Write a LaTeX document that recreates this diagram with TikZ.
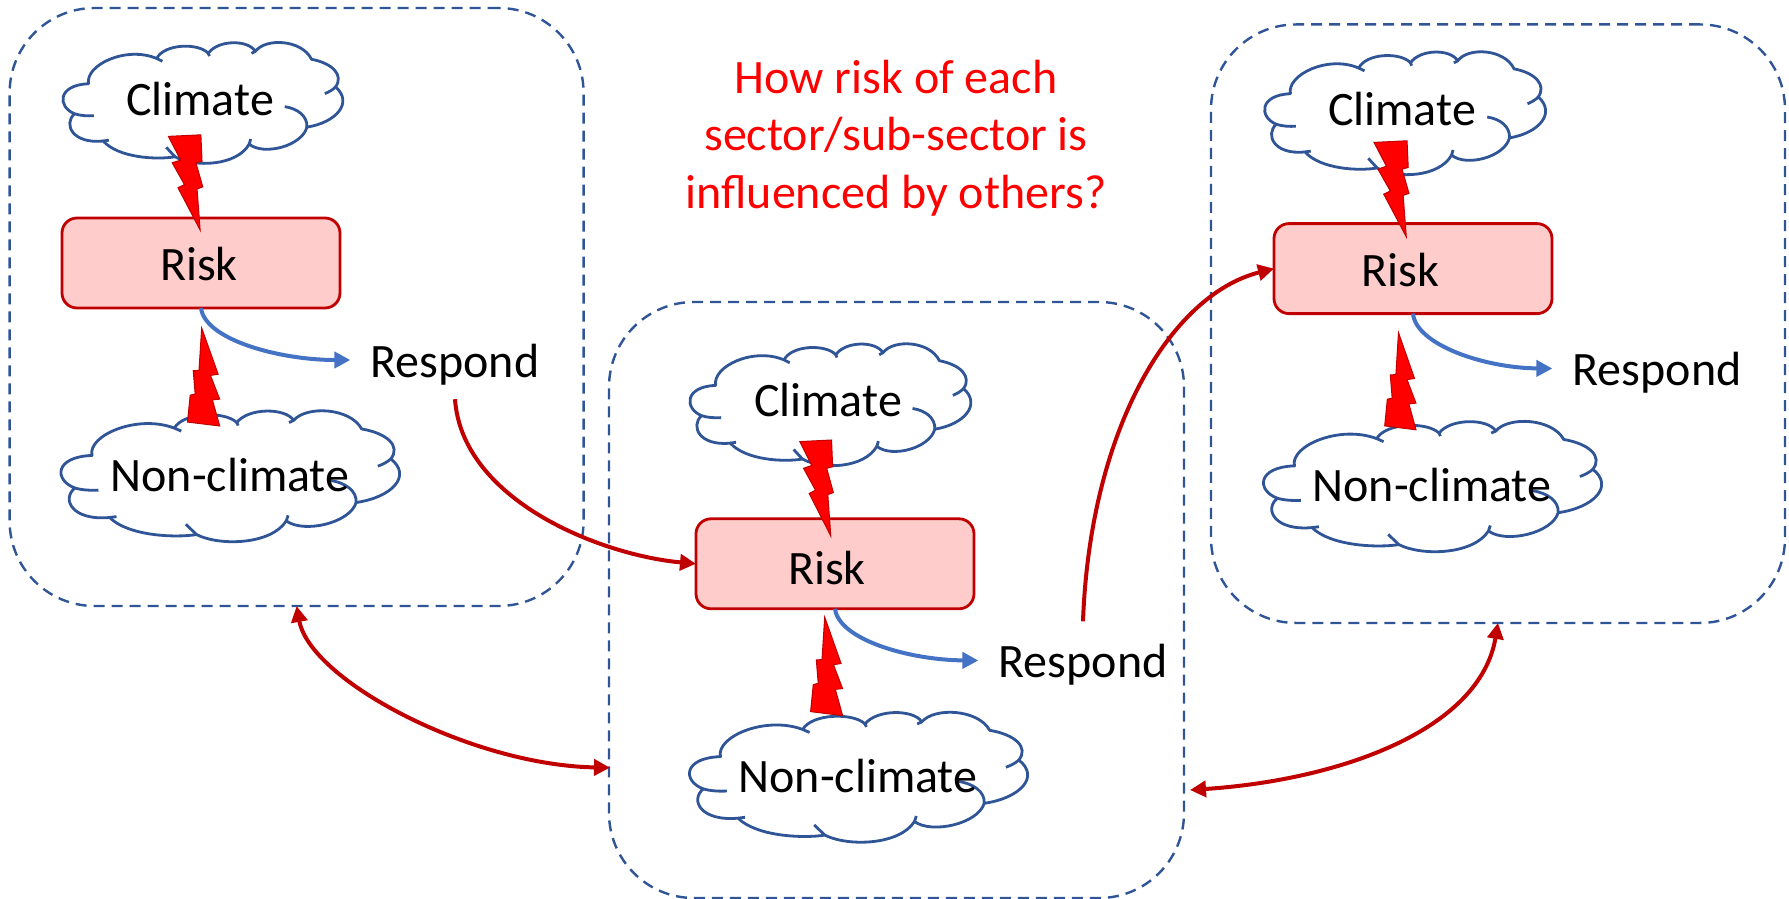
\documentclass[tikz,border=0pt]{standalone}
\usepackage{fontspec}
\setmainfont{Carlito}
\usetikzlibrary{arrows.meta}

\definecolor{boxblue}{RGB}{47,85,151}
\definecolor{arrowblue}{RGB}{68,114,196}
\definecolor{darkred}{RGB}{192,0,0}
\definecolor{riskpink}{RGB}{255,204,204}

\tikzset{
  panelbox/.style={draw=boxblue, line width=2.4pt, dash pattern=on 11pt off 7pt, rounded corners=85pt, minimum width=#1, outer sep=0pt, inner sep=0pt},
  risknode/.style={draw=darkred, fill=riskpink, line width=2.8pt, rounded corners=15pt, minimum width=278pt, minimum height=90pt, outer sep=0pt},
  wordnode/.style={anchor=base, inner sep=0pt, font=\fontsize{48}{57.5}\selectfont},
  respondnode/.style={anchor=base, inner xsep=20pt, inner ysep=13pt, text height=43pt, text depth=9pt, font=\fontsize{48}{57.5}\selectfont},
  cloudline/.style={draw=boxblue, line width=2.8pt, line join=round},
  boltshape/.style={draw=darkred, fill=red, line width=1pt, line join=miter},
  respondarrow/.style={draw=arrowblue, line width=4pt, ->, >={Triangle[length=16pt,width=16pt]}},
  linkarrow/.style={draw=darkred, line width=4pt, >={Triangle[length=16pt,width=16pt]}},
  pics/cloudpic/.style n args={2}{code={
    \begin{scope}[xscale=#1/735, yscale=#2/304, shift={(-165,-108)}]
    \draw[cloudline, fill=white] (232,212) .. controls (222,165) and (330,115) .. (410,148)
      .. controls (430,110) and (520,108) .. (545,135)
      .. controls (570,100) and (650,100) .. (668,130)
      .. controls (695,95) and (790,100) .. (815,150)
      .. controls (870,160) and (900,190) .. (878,220)
      .. controls (925,260) and (880,310) .. (803,322)
      .. controls (790,370) and (690,395) .. (652,365)
      .. controls (620,420) and (510,425) .. (458,397)
      .. controls (410,405) and (310,400) .. (270,357)
      .. controls (190,365) and (165,315) .. (195,288)
      .. controls (150,270) and (150,215) .. (232,212) -- cycle;
    \draw[cloudline] (195,288) .. controls (210,293) and (230,294) .. (246,293);
    \draw[cloudline] (410,148) -- (425,155);
    \draw[cloudline] (545,135) -- (548,142);
    \draw[cloudline] (668,130) -- (658,135);
    \draw[cloudline] (878,220) .. controls (870,228) and (860,233) .. (850,237);
    \draw[cloudline] (803,322) .. controls (805,295) and (780,275) .. (745,270);
    \draw[cloudline] (652,365) -- (656,352);
    \draw[cloudline] (458,397) -- (435,373);
    \draw[cloudline] (270,357) -- (285,355);
    \end{scope}
  }},
  pics/boltdown/.style n args={2}{code={
    \draw[boltshape, xscale=#1/90, yscale=#2/241] (0,4) -- (85,0) -- (88,67) -- (72,71) -- (90,132) -- (75,137) -- (83,241)
      -- (25,134) -- (42,126) -- (10,71) -- (32,64) -- cycle;
  }},
  pics/boltup/.style n args={2}{code={
    \draw[boltshape, xscale=#1/84, yscale=#2/248] (37,0) -- (80,117) -- (60,120) -- (84,180) -- (65,182) -- (84,248)
      -- (0,238) -- (7,170) -- (20,167) -- (15,108) -- (30,107) -- cycle;
  }}
}

\begin{document}
\begin{tikzpicture}[x=1pt, y=-1pt]
\useasboundingbox (0,0) rectangle (1789,899);

\node[panelbox=574pt, minimum height=598pt] (box1) at (296.6,307) {};
\node[panelbox=575pt, minimum height=596pt] (box2) at (896.5,600) {};
\node[panelbox=574pt, minimum height=598.5pt] (box3) at (1498,323.7) {};

% left panel
\node[risknode] (risk1) at (201,263) {};
\pic at (63,42.7) {cloudpic={281}{120}};
\pic at (61,411) {cloudpic={340}{130}};
\pic at (168.4,134.8) {boltdown={34.4}{95.2}};
\pic at (187.5,328) {boltup={32.2}{98}};
\node[wordnode] (climate1) at (200,115.5) {Climate};
\node[wordnode] (riskword1) at (199,280) {Risk};
\node[wordnode] (nonclimate1) at (230,491.5) {Non-climate};
\node[respondnode] (respond1) at (455,377) {Respond};

% middle panel
\node[risknode] (risk2) at (835,563.8) {};
\pic at (690,344) {cloudpic={282}{121}};
\pic at (689.5,712.5) {cloudpic={339.5}{129}};
\pic at (799.8,440) {boltdown={33.6}{96}};
\pic at (810.6,617) {boltup={32}{98.6}};
\node[wordnode] (climate2) at (828,416.5) {Climate};
\node[wordnode] (riskword2) at (827,584) {Risk};
\node[wordnode] (nonclimate2) at (858,792.7) {Non-climate};
\node[respondnode] (respond2) at (1083,677.5) {Respond};

% right panel
\node[risknode] (risk3) at (1413,268.6) {};
\pic at (1264.7,52) {cloudpic={282}{122}};
\pic at (1263.5,421.6) {cloudpic={339.5}{129.4}};
\pic at (1374,140.8) {boltdown={35}{96}};
\pic at (1384.7,332.6) {boltup={31.3}{97.2}};
\node[wordnode] (climate3) at (1402,125) {Climate};
\node[wordnode] (riskword3) at (1400.6,286.5) {Risk};
\node[wordnode] (nonclimate3) at (1432,501) {Non-climate};
\node[respondnode] (respond3) at (1657,385.5) {Respond};

\node[font=\fontsize{48}{57.5}\selectfont, text=red, align=center, inner sep=0pt] (question) at (896,138)
  {How risk of each\\sector/sub-sector is\\influenced by others?};

\draw[respondarrow] (risk1.south) .. controls (205,340) and (280,360) .. (respond1.west);
\draw[respondarrow] (risk2.south) .. controls (839,640) and (910,660) .. (respond2.west);
\draw[respondarrow] (risk3.south) .. controls (1416,345) and (1485,368) .. (respond3.west);

\draw[linkarrow, ->] (respond1.south) .. controls (462,500) and (600,555) .. (risk2.west);
\draw[linkarrow, ->] (respond2.north) .. controls (1090,430) and (1170,295) .. (risk3.west);

\coordinate (boxlink1) at (610,767.7);
\coordinate (boxlink2) at (1190,790);
\draw[linkarrow, <->] (box1.south) .. controls (310,680) and (470,765) .. (boxlink1);
\draw[linkarrow, <->] (boxlink2) .. controls (1340,780) and (1480,730) .. (box3.south);
\end{tikzpicture}
\end{document}
